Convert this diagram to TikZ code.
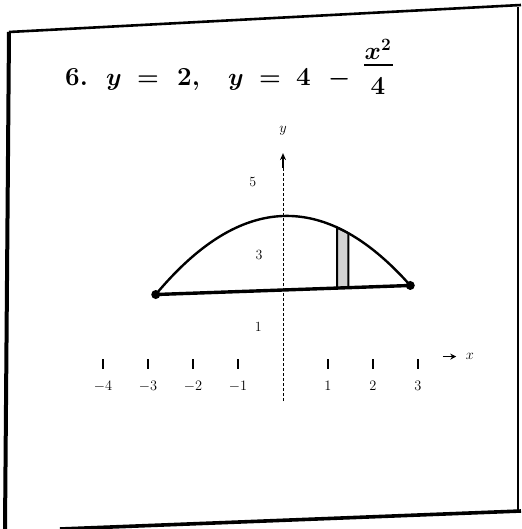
\documentclass[tikz,border=0pt]{standalone}
\usepackage{amsmath}
\usepackage{bm}
\usetikzlibrary{arrows.meta}
\begin{document}
\begin{tikzpicture}[x=1pt,y=-1pt,
  ttl/.style={anchor=base west,inner sep=0pt,font={\fontsize{26}{28}\selectfont\bfseries\boldmath}},
  lbl/.style={inner sep=0pt,font={\fontsize{14}{16}\selectfont}},
  curve/.style={line width=2.4pt},
  baseln/.style={line width=3.4pt},
  axisln/.style={line width=1pt,densely dashed},
  tick/.style={line width=1.3pt}]
\useasboundingbox (0,0) rectangle (521,529);
% frame
\coordinate (tl) at (9,32); \coordinate (tr) at (521,5);
\coordinate (rt) at (518,7); \coordinate (rb) at (518,511);
\coordinate (bl) at (60,529); \coordinate (br) at (521,511);
\coordinate (lb) at (5,529);
\draw[line width=2.6pt] (tl) -- (tr);
\draw[line width=4pt] (tl) -- (lb);
\draw[line width=1.2pt] (rt) -- (rb);
\draw[line width=3.6pt] (bl) -- (br);
% title
\node[ttl] (t1) at (65,86) {6.};
\node[ttl] (t2) at (106,86) {$y$};
\node[ttl] (t3) at (137,86) {$=$};
\node[ttl] (t4) at (177,86) {2,};
\node[ttl] (t5) at (228,86) {$y$};
\node[ttl] (t6) at (259,86) {$=$};
\node[ttl] (t7) at (296,86) {4};
\node[ttl] (t8) at (328,86) {$-$};
\node[ttl,anchor=base] (num) at (378,60) {$x^2$};
\node[ttl,anchor=base] (den) at (378,95) {4};
\coordinate (fb1) at (364,65); \coordinate (fb2) at (393,65);
\draw[line width=2pt] (fb1) -- (fb2);
% graph (sheared like the scan)
\begin{scope}[shift={(283,364)}, x={(45pt,1.6pt)}, y={(0pt,37pt)}]
  \coordinate (L) at (-2.828,2);
  \coordinate (R) at (2.828,2);
  \coordinate (s1) at (1.2,2);
  \coordinate (s2) at (1.2,3.64);
  \coordinate (s3) at (1.45,3.474);
  \coordinate (s4) at (1.45,2);
  \filldraw[fill=gray!35,line width=2pt] (s1) -- (s2) -- (s3) -- (s4) -- cycle;
  \draw[curve] plot[domain=-2.828:2.828,samples=80,smooth] (\x,{4-\x*\x/4});
  \draw[baseln] (L) -- (R);
  \fill (L) circle[radius=4.5pt];
  \fill (R) circle[radius=4.5pt];
\end{scope}
% axes
\begin{scope}[shift={(283,364)}, x=45pt, y=37pt]
  \coordinate (yb) at (0,-1);
  \coordinate (yt) at (0,5.3);
  \coordinate (ya) at (0,5.7);
  \draw[axisln] (yb) -- (yt);
  \draw[line width=1.2pt,-{Stealth[length=7pt,width=6pt]}] (yt) -- (ya);
  \node[lbl] (ylab) at (0,6.3) {$y$};
  \node[lbl] (y5) at (-0.67,4.92) {5};
  \node[lbl] (y3) at (-0.53,2.95) {3};
  \node[lbl] (y1) at (-0.55,1.0) {1};
  \foreach \i in {-4,-3,-2,-1,1,2,3}{
    \draw[tick] (\i,-0.13) -- (\i,0.13);
    \node[lbl] (xl\i) at (\i,-0.6) {$\i$};
  }
  \coordinate (xa1) at (3.55,0.2);
  \coordinate (xa2) at (3.85,0.2);
  \draw[line width=1.6pt,-{Stealth[length=6pt,width=6pt]}] (xa1) -- (xa2);
  \node[lbl] (xlab) at (4.15,0.2) {$x$};
\end{scope}
\end{tikzpicture}
\end{document}
